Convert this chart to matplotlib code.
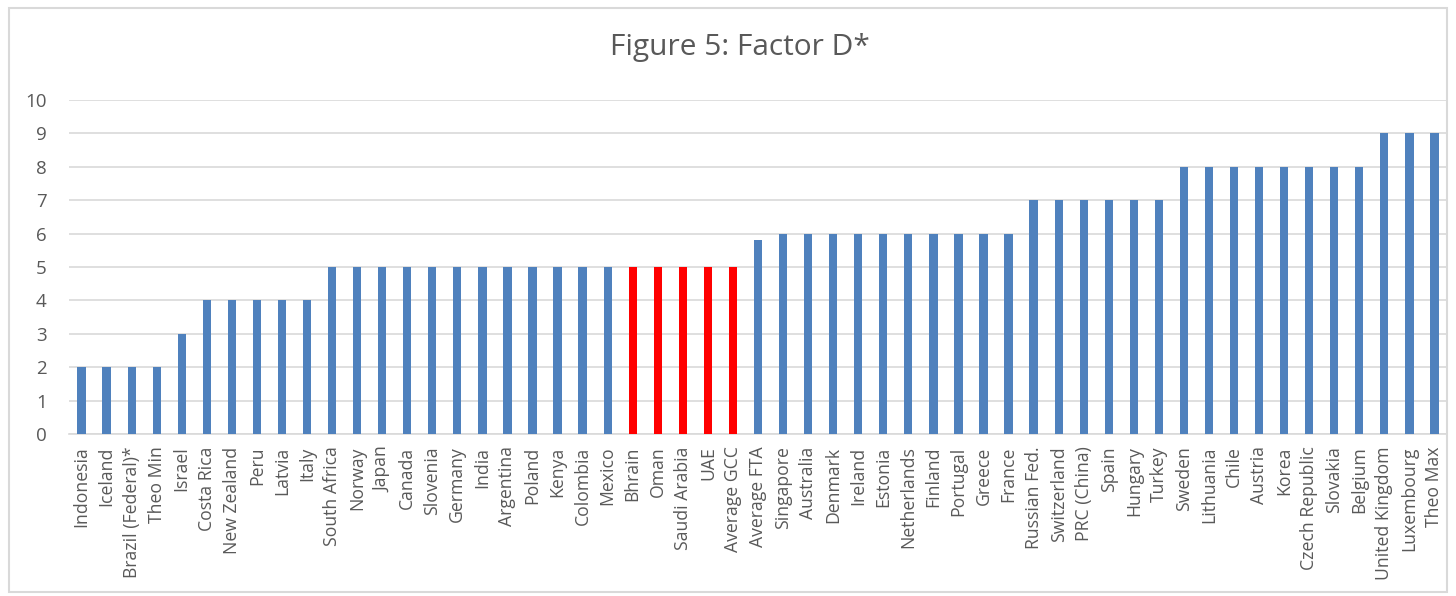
import matplotlib
matplotlib.use("Agg")
import matplotlib.pyplot as plt
from matplotlib.patches import Rectangle

categories = ["Indonesia", "Iceland", "Brazil (Federal)*", "Theo Min", "Israel", "Costa Rica",
              "New Zealand", "Peru", "Latvia", "Italy", "South Africa", "Norway", "Japan", "Canada",
              "Slovenia", "Germany", "India", "Argentina", "Poland", "Kenya", "Colombia", "Mexico",
              "Bhrain", "Oman", "Saudi Arabia", "UAE", "Average GCC", "Average FTA", "Singapore",
              "Australia", "Denmark", "Ireland", "Estonia", "Netherlands", "Finland", "Portugal",
              "Greece", "France", "Russian Fed.", "Switzerland", "PRC (China)", "Spain", "Hungary",
              "Turkey", "Sweden", "Lithuania", "Chile", "Austria", "Korea", "Czech Republic",
              "Slovakia", "Belgium", "United Kingdom", "Luxembourg", "Theo Max"]
values = [2, 2, 2, 2, 3, 4, 4, 4, 4, 4, 5, 5, 5, 5, 5, 5, 5, 5, 5, 5, 5, 5,
          5, 5, 5, 5, 5, 5.8, 6, 6, 6, 6, 6, 6, 6, 6, 6, 6, 7, 7, 7, 7, 7, 7,
          8, 8, 8, 8, 8, 8, 8, 8, 9, 9, 9]
highlight = ["Bhrain", "Oman", "Saudi Arabia", "UAE", "Average GCC"]

plt.rcParams['font.family'] = ['Open Sans', 'DejaVu Sans']
text_color = "#595959"

fig = plt.figure(figsize=(14.56, 5.96), dpi=100)
fig.patches.append(Rectangle((9/1456, 1 - 592/596), 1438/1456, 584/596, transform=fig.transFigure,
                             fill=False, edgecolor="#d9d9d9", linewidth=1.5))
ax = fig.add_axes([69/1456, 1 - 434/596, 1378/1456, 334/596])

colors = ["#ff0000" if c in highlight else "#4f81bd" for c in categories]
x = list(range(len(categories)))
ax.bar(x, values, width=0.33, color=colors, zorder=3)

ax.set_xlim(-0.5, len(categories) - 0.5)
ax.set_ylim(0, 10)
ax.set_yticks(range(0, 11))
ax.yaxis.grid(True, color="#d9d9d9", linewidth=1.2, zorder=0)
ax.set_axisbelow(True)
for s in ["top", "right", "left"]:
    ax.spines[s].set_visible(False)
ax.spines["bottom"].set_color("#d9d9d9")
ax.spines["bottom"].set_linewidth(1.2)
ax.tick_params(axis="both", length=0, colors=text_color)
ax.tick_params(axis="y", labelsize=13.5, pad=16)
ax.set_xticks(x)
ax.set_xticklabels(categories, rotation=90, fontsize=12.7, color=text_color)
ax.tick_params(axis="x", pad=9)

fig.text(740/1456, 1 - 47/596, "Figure 5: Factor D*", ha="center", va="center", fontsize=21.5, color=text_color)

fig.savefig("out.png", dpi=100)
